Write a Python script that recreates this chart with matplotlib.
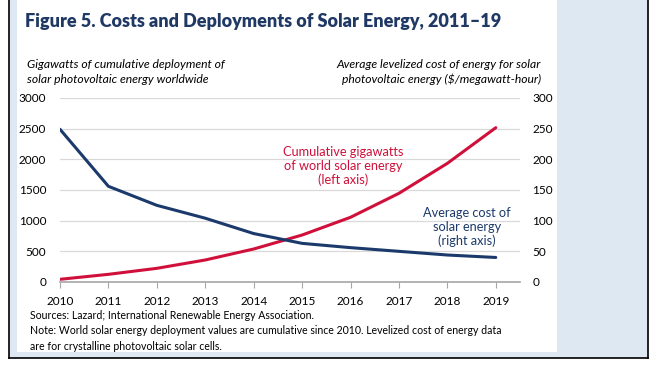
import matplotlib.pyplot as plt
from matplotlib.patches import Rectangle
from matplotlib.lines import Line2D

plt.rcParams['font.family'] = ['Lato', 'DejaVu Sans']

# Data
years = [2010, 2011, 2012, 2013, 2014, 2015, 2016, 2017, 2018, 2019]
gigawatts = [44, 125, 223, 359, 538, 766, 1055, 1446, 1935, 2516]
cost = [249, 156, 125, 104, 79, 63, 56, 50, 44, 40]
left_ticks = [0, 500, 1000, 1500, 2000, 2500, 3000]
right_ticks = [0, 50, 100, 150, 200, 250, 300]

red = '#d0103a'
navy = '#1b3a6b'
W, H = 658, 370

fig = plt.figure(figsize=(W / 100, H / 100), dpi=100)

# background frame: light blue panel with white chart area
def px(x0, y0, x1, y1, **kw):
    fig.patches.append(Rectangle((x0 / W, 1 - y1 / H), (x1 - x0) / W, (y1 - y0) / H,
                                 transform=fig.transFigure, **kw))

px(9, 0, 648, 358, facecolor='#dde8f3', edgecolor='none', zorder=-3)
px(17, 0, 557, 352, facecolor='white', edgecolor='none', zorder=-2)
for xs, ys in [((9, 9), (0, 358)), ((9, 648), (358, 358)), ((648, 648), (0, 358))]:
    fig.lines.append(Line2D([x / W for x in xs], [1 - y / H for y in ys],
                            transform=fig.transFigure, color='black', lw=1.2))

ax = fig.add_axes([60 / W, 1 - 282 / H, (520 - 60) / W, (282 - 98) / H])
ax.set_facecolor('none')
ax2 = ax.twinx()

ax.plot(years, gigawatts, color=red, lw=2.2, solid_capstyle='round', zorder=3)
ax2.plot(years, cost, color=navy, lw=2.2, solid_capstyle='round', zorder=3)

ax.set_xlim(2010, 2019.5)
ax.set_ylim(0, 3000)
ax2.set_ylim(0, 300)
ax.set_xticks(years)
ax.set_yticks(left_ticks)
ax2.set_yticks(right_ticks)
ax.grid(axis='y', color='#d9d9d9', lw=0.9)
ax.set_axisbelow(True)

for a in (ax, ax2):
    for s in a.spines.values():
        s.set_visible(False)
ax.spines['bottom'].set_visible(True)
ax.spines['bottom'].set_color('#a6a6a6')
ax.spines['bottom'].set_linewidth(1.2)
ax.tick_params(axis='x', length=4, color='#a6a6a6', labelsize=8.5, pad=6)
ax.tick_params(axis='y', length=0, labelsize=8.5, pad=10)
ax2.tick_params(axis='y', length=0, labelsize=8.5, pad=9)

fig.text(343 / W, 1 - 166 / H, 'Cumulative gigawatts\nof world solar energy\n(left axis)',
         color=red, fontsize=9.2, ha='center', va='center', linespacing=1.2)
fig.text(467 / W, 1 - 227 / H, 'Average cost of\nsolar energy\n(right axis)',
         color=navy, fontsize=9.2, ha='center', va='center', linespacing=1.2)

fig.text(25 / W, 1 - 22 / H, 'Figure 5. Costs and Deployments of Solar Energy, 2011\u201319',
         color='#1f3864', fontsize=13, fontweight='heavy', ha='left', va='center')
fig.text(27 / W, 1 - 72 / H, 'Gigawatts of cumulative deployment of\nsolar photovoltaic energy worldwide',
         fontsize=8.7, style='italic', ha='left', va='center', linespacing=1.35)
fig.text(541 / W, 1 - 72 / H, 'Average levelized cost of energy for solar\nphotovoltaic energy ($/megawatt-hour)',
         fontsize=8.7, style='italic', ha='right', va='center', linespacing=1.35)

fig.text(30 / W, 1 - 331 / H,
         'Sources: Lazard; International Renewable Energy Association.\n'
         'Note: World solar energy deployment values are cumulative since 2010. Levelized cost of energy data\n'
         'are for crystalline photovoltaic solar cells.',
         fontsize=7.6, ha='left', va='center', linespacing=1.5)

fig.savefig('out.png', dpi=100)
